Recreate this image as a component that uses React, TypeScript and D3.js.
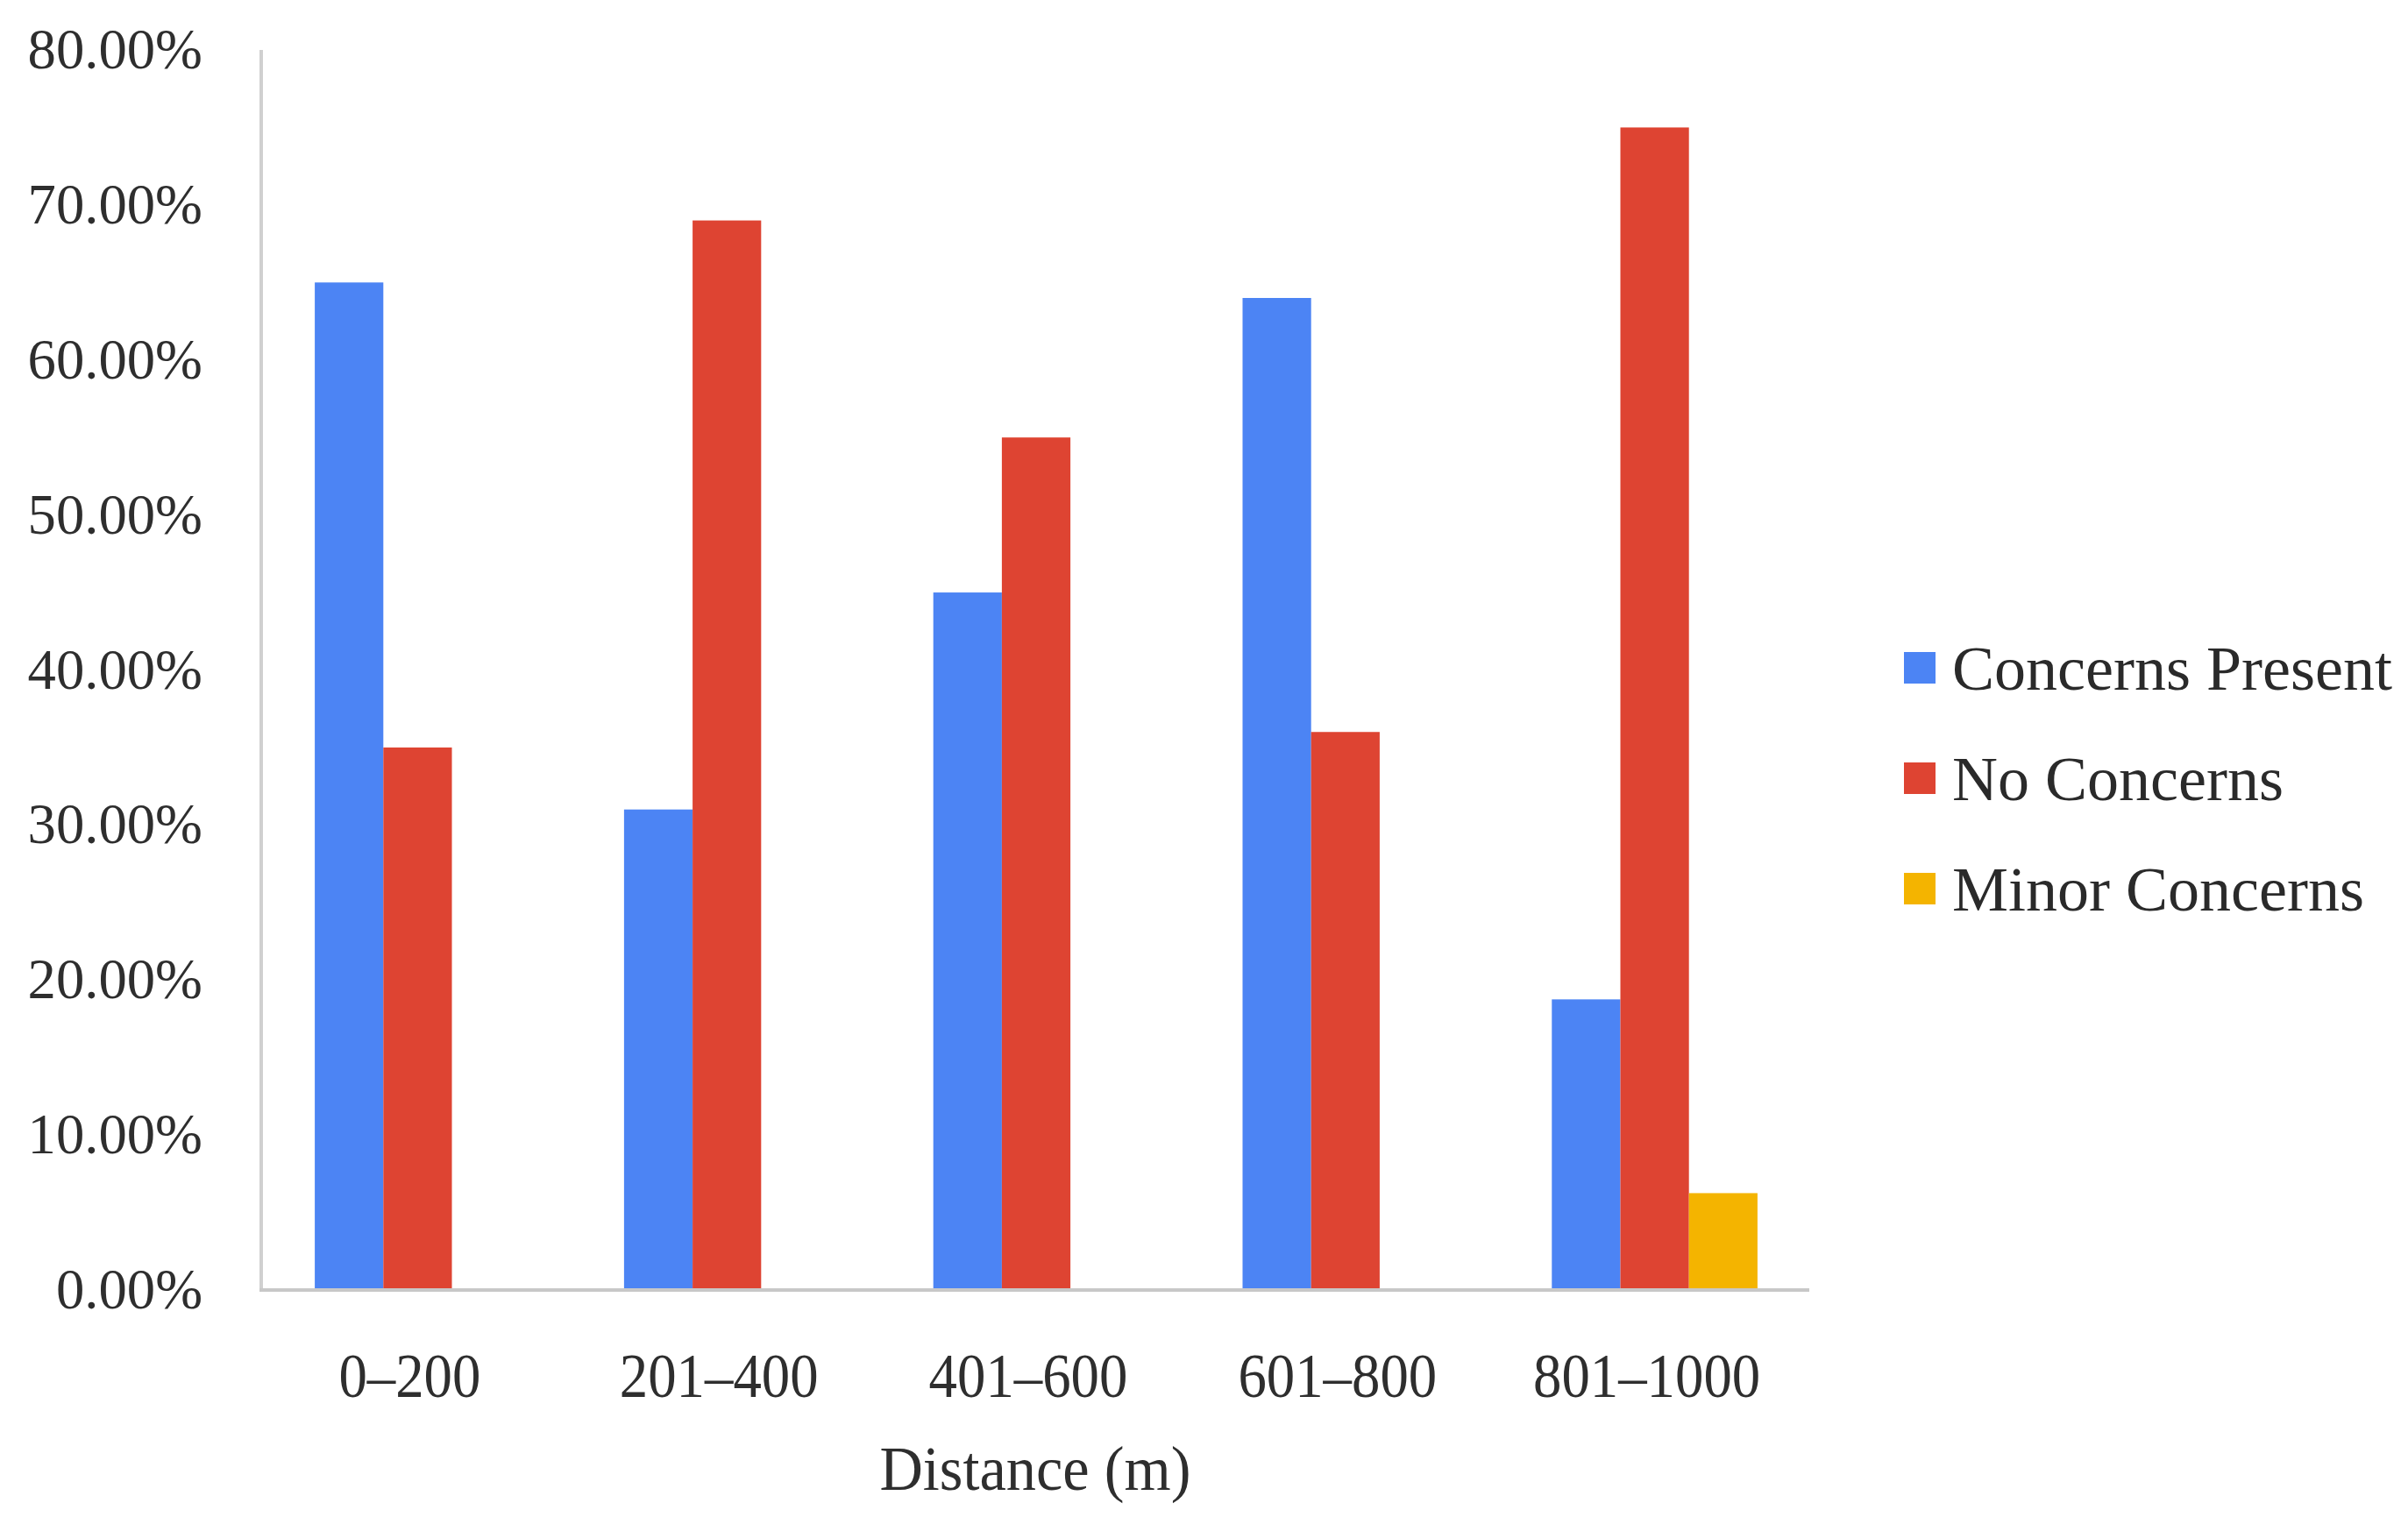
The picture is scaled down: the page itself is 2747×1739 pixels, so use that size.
import React, { useRef, useEffect } from "react";
import * as d3 from "d3";

const categories = ["0–200", "201–400", "401–600", "601–800", "801–1000"];
const seriesNames = ["Concerns Present", "No Concerns", "Minor Concerns"];
const concernsPresent = [65, 31, 45, 64, 18.75];
const noConcerns = [35, 69, 55, 36, 75];
const minorConcerns = [0, 0, 0, 0, 6.25];
const yTicks = [0, 10, 20, 30, 40, 50, 60, 70, 80];
const colors = ["#4c84f4", "#de4432", "#f4b400"];

const W = 2747;
const H = 1739;
const FONT = "'Palatino Linotype', 'Book Antiqua', Palatino, 'Liberation Serif', serif";

function App() {
  const svgRef = useRef<any>();

  useEffect(() => {
    const svg = d3.select(svgRef.current);
    svg.selectAll("*").remove();

    const values = [concernsPresent, noConcerns, minorConcerns];

    const x = d3.scaleBand().domain(categories).range([300, 2064]).paddingInner(0.335).paddingOuter(0.1675);
    const xs = d3.scaleBand().domain(seriesNames).range([0, x.bandwidth()]);
    const y = d3.scaleLinear().domain([0, 80]).range([1472, 57]);

    // bars
    categories.forEach((c, ci) => {
      seriesNames.forEach((s, si) => {
        const v = values[si][ci];
        if (!v) return;
        svg
          .append("rect")
          .attr("x", (x(c) as number) + (xs(s) as number))
          .attr("y", y(v))
          .attr("width", xs.bandwidth())
          .attr("height", y(0) - y(v))
          .attr("fill", colors[si]);
      });
    });

    // axis lines
    svg
      .append("line")
      .attr("x1", 298)
      .attr("x2", 298)
      .attr("y1", y(80))
      .attr("y2", y(0) + 2)
      .attr("stroke", "#d0d0d0")
      .attr("stroke-width", 4);
    svg
      .append("line")
      .attr("x1", 296)
      .attr("x2", 2064)
      .attr("y1", y(0))
      .attr("y2", y(0))
      .attr("stroke", "#c8c8c8")
      .attr("stroke-width", 4);

    // y tick labels
    svg
      .selectAll(".ytick")
      .data(yTicks)
      .join("text")
      .attr("class", "ytick")
      .attr("transform", (d) => `translate(231,${y(d) + 21}) scale(0.98,1)`)
      .attr("text-anchor", "end")
      .attr("font-family", FONT)
      .attr("font-size", 66)
      .attr("fill", "#2e2e2e")
      .text((d) => d.toFixed(2) + "%");

    // x tick labels
    svg
      .selectAll(".xtick")
      .data(categories)
      .join("text")
      .attr("class", "xtick")
      .attr("transform", (d) => `translate(${(x(d) as number) + x.bandwidth() / 2 - 9},1594) scale(0.9,1)`)
      .attr("text-anchor", "middle")
      .attr("font-family", FONT)
      .attr("font-size", 72)
      .attr("fill", "#2e2e2e")
      .text((d) => d);

    // axis title
    svg
      .append("text")
      .attr("transform", `translate(1181,1700) scale(0.95,1)`)
      .attr("text-anchor", "middle")
      .attr("font-family", FONT)
      .attr("font-size", 72)
      .attr("fill", "#2e2e2e")
      .text("Distance (m)");

    // legend
    const legend = svg
      .selectAll(".legend")
      .data(seriesNames)
      .join("g")
      .attr("class", "legend")
      .attr("transform", (d, i) => `translate(2172,${762 + i * 126})`);
    legend
      .append("rect")
      .attr("x", 0)
      .attr("y", -18)
      .attr("width", 36)
      .attr("height", 36)
      .attr("fill", (d, i) => colors[i]);
    legend
      .append("text")
      .attr("x", 55)
      .attr("y", 25)
      .attr("font-family", FONT)
      .attr("font-size", 72)
      .attr("fill", "#2a2a2a")
      .text((d) => d);
  }, []);

  return (
    <svg
      ref={svgRef}
      width={W}
      height={H}
      style={{ position: "absolute", left: 0, top: 0, background: "#fff" }}
    />
  );
}

export default App;
